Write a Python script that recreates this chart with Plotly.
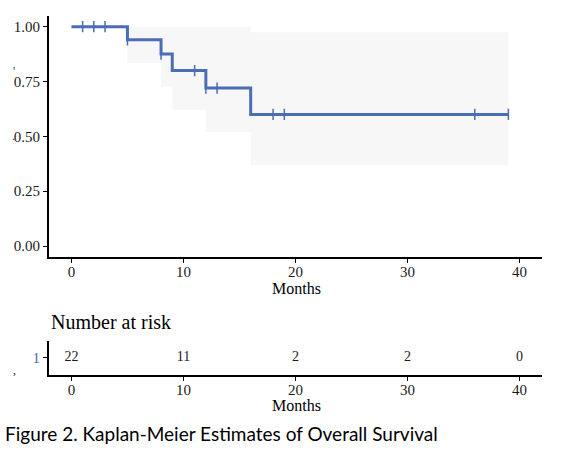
import plotly.graph_objects as go

# Kaplan-Meier step curve
step_times = [0, 5, 8, 9, 12, 16, 39]
surv = [1.00, 0.94, 0.875, 0.80, 0.72, 0.60, 0.60]
ci_upper = [1.00, 1.00, 1.00, 1.00, 1.00, 0.975, 0.975]
ci_lower = [1.00, 0.833, 0.727, 0.621, 0.52, 0.368, 0.368]

# censored observations
censor_times = [1, 2, 3, 5, 8, 11, 12, 13, 18, 19, 36, 39]
censor_surv = [1.00, 1.00, 1.00, 0.94, 0.875, 0.80, 0.72, 0.72, 0.60, 0.60, 0.60, 0.60]

# number at risk table
risk_times = [0, 10, 20, 30, 40]
risk_counts = [22, 11, 2, 2, 0]
strata = [1]

x_ticks = [0, 10, 20, 30, 40]
y_ticks = [0, 0.25, 0.5, 0.75, 1.0]
y_ticklabels = ["0.00", "0.25", "0.50", "0.75", "1.00"]

line_col = "#4A6DB5"
band_col = "#F7F7F7"
serif = "Liberation Serif"

W, H = 568, 456


def px(x):
    return x / W


def py(y):
    return 1 - y / H


fig = go.Figure()

# confidence band
fig.add_trace(go.Scatter(
    x=step_times, y=ci_lower, mode="lines", line=dict(width=0, shape="hv"),
    showlegend=False, hoverinfo="skip", xaxis="x", yaxis="y"
))
fig.add_trace(go.Scatter(
    x=step_times, y=ci_upper, mode="lines", line=dict(width=0, shape="hv"),
    fill="tonexty", fillcolor=band_col,
    showlegend=False, hoverinfo="skip", xaxis="x", yaxis="y"
))

# survival curve
fig.add_trace(go.Scatter(
    x=step_times, y=surv, mode="lines", line=dict(color=line_col, width=3, shape="hv"),
    showlegend=False, xaxis="x", yaxis="y"
))
fig.add_trace(go.Scatter(
    x=censor_times, y=censor_surv, mode="markers",
    marker=dict(symbol="line-ns", size=8, line=dict(color=line_col, width=1.5)),
    showlegend=False, xaxis="x", yaxis="y"
))

# risk table
fig.add_trace(go.Scatter(
    x=risk_times, y=strata * len(risk_times), mode="text",
    text=[str(c) for c in risk_counts],
    textfont=dict(family=serif, size=14, color="#1a1a1a"),
    showlegend=False, xaxis="x2", yaxis="y2"
))

axis_common = dict(
    showline=True, linecolor="black", linewidth=2,
    ticks="outside", ticklen=4, tickwidth=1.2, tickcolor="black",
    showgrid=False, zeroline=False,
    tickfont=dict(family=serif, size=15, color="#1a1a1a"),
)

note = dict(xref="paper", yref="paper", showarrow=False, yanchor="middle")
stray = dict(note, font=dict(family=serif, size=12, color="#333333"))

fig.update_layout(
    width=W, height=H,
    margin=dict(l=0, r=0, t=0, b=0),
    paper_bgcolor="white", plot_bgcolor="white",
    xaxis=dict(domain=[px(49), px(542)], range=[-2, 42], tickvals=x_ticks,
               anchor="y", ticklabelstandoff=-4, **axis_common),
    yaxis=dict(domain=[py(257), py(15.7)], range=[-0.05, 1.05],
               tickvals=y_ticks, ticktext=y_ticklabels, anchor="x", **axis_common),
    xaxis2=dict(domain=[px(49), px(542)], range=[-2, 42], tickvals=x_ticks,
                anchor="y2", ticklabelstandoff=-4, **axis_common),
    yaxis2=dict(domain=[py(375), py(340.7)], range=[0.5, 1.5],
                tickvals=strata, ticktext=["1"], anchor="x2",
                **{**axis_common, "tickfont": dict(family=serif, size=15, color=line_col)}),
    annotations=[
        dict(note, text="Months", x=px(296), y=py(288),
             font=dict(family=serif, size=16, color="black")),
        dict(note, text="Months", x=px(296), y=py(405),
             font=dict(family=serif, size=16, color="black")),
        dict(note, text="Number at risk", x=px(49), y=py(322), xanchor="left",
             font=dict(family=serif, size=20, color="black")),
        dict(note, text="Figure 2. Kaplan-Meier Estimates of Overall Survival",
             x=px(3), y=py(433), xanchor="left",
             font=dict(family="Lato", size=19, color="black")),
        # cropped fragments of the rotated axis titles on the left edge
        dict(stray, text="'", x=px(11), y=py(71)),
        dict(stray, text=".", x=px(10), y=py(136)),
        dict(stray, text=",", x=px(11), y=py(370)),
    ],
)

# drop the page's default body margin so the figure sits at the window corner
fig.write_html("out.html", config={"displayModeBar": False},
               post_script="document.body.style.margin='0';")
